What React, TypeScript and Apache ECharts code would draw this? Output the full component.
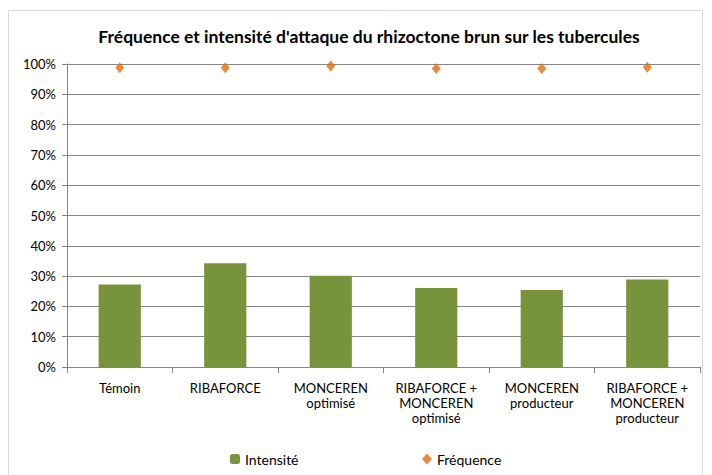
import React, { useEffect, useRef } from "react";
import * as echarts from "echarts";

const categories = [
  "Témoin",
  "RIBAFORCE",
  "MONCEREN\noptimisé",
  "RIBAFORCE +\nMONCEREN\noptimisé",
  "MONCEREN\nproducteur",
  "RIBAFORCE +\nMONCEREN\nproducteur",
];
const intensite = [27.2, 34.2, 30.1, 26.1, 25.4, 28.9];
const frequence = [98.8, 98.8, 99.3, 98.5, 98.5, 98.9];

const FONT = "Lato";

export default function App() {
  const ref = useRef<HTMLDivElement>(null);
  useEffect(() => {
    if (!ref.current) return;
    const chart = echarts.init(ref.current, null, { renderer: "svg" });
    chart.setOption({
      animation: false,
      backgroundColor: "#ffffff",
      textStyle: { fontFamily: FONT },
      title: {
        text: "Fréquence et intensité d'attaque du rhizoctone brun sur les tubercules",
        left: 364,
        textAlign: "center",
        top: 22,
        textStyle: { fontFamily: FONT, fontSize: 17.5, fontWeight: "bold", color: "#000" },
      },
      graphic: [
        {
          type: "rect",
          shape: { x: 8.5, y: 10.5, width: 694, height: 480 },
          style: { fill: "none", stroke: "#d9d9d9", lineWidth: 1 },
          silent: true,
        },
      ],
      grid: { left: 67, right: 12, top: 64, bottom: 108 },
      xAxis: {
        type: "category",
        data: categories,
        axisLine: { lineStyle: { color: "#868686" } },
        axisTick: { show: true, length: 6, lineStyle: { color: "#868686" } },
        axisLabel: {
          color: "#000",
          fontSize: 13,
          lineHeight: 15,
          margin: 13,
          interval: 0,
          fontFamily: FONT,
        },
      },
      yAxis: {
        type: "value",
        min: 0,
        max: 100,
        interval: 10,
        axisLine: { show: true, lineStyle: { color: "#868686" } },
        axisTick: { show: true, length: 5, lineStyle: { color: "#868686" } },
        splitLine: { lineStyle: { color: "#868686" } },
        axisLabel: {
          formatter: "{value}%",
          color: "#000",
          fontSize: 13,
          margin: 11,
          fontFamily: FONT,
        },
      },
      legend: [
        {
          data: ["Intensité"],
          left: 225,
          top: 447,
          itemWidth: 10,
          itemHeight: 10,
          itemGap: 5,
          textStyle: { fontSize: 14, color: "#000", fontFamily: FONT },
        },
        {
          data: [{ name: "Fréquence", icon: "diamond" }],
          left: 417,
          top: 447,
          itemWidth: 10,
          itemHeight: 11,
          itemGap: 5,
          textStyle: { fontSize: 14, color: "#000", fontFamily: FONT },
        },
      ],
      series: [
        {
          name: "Intensité",
          type: "bar",
          data: intensite,
          barWidth: "40%",
          itemStyle: { color: "#77933C" },
        },
        {
          name: "Fréquence",
          type: "scatter",
          data: frequence,
          symbol: "diamond",
          symbolSize: [9, 11],
          itemStyle: { color: "#E46C0A" },
        },
      ],
    });
    return () => chart.dispose();
  }, []);
  return (
    <div
      ref={ref}
      style={{ position: "fixed", left: 0, top: 0, width: 712, height: 475 }}
    />
  );
}
